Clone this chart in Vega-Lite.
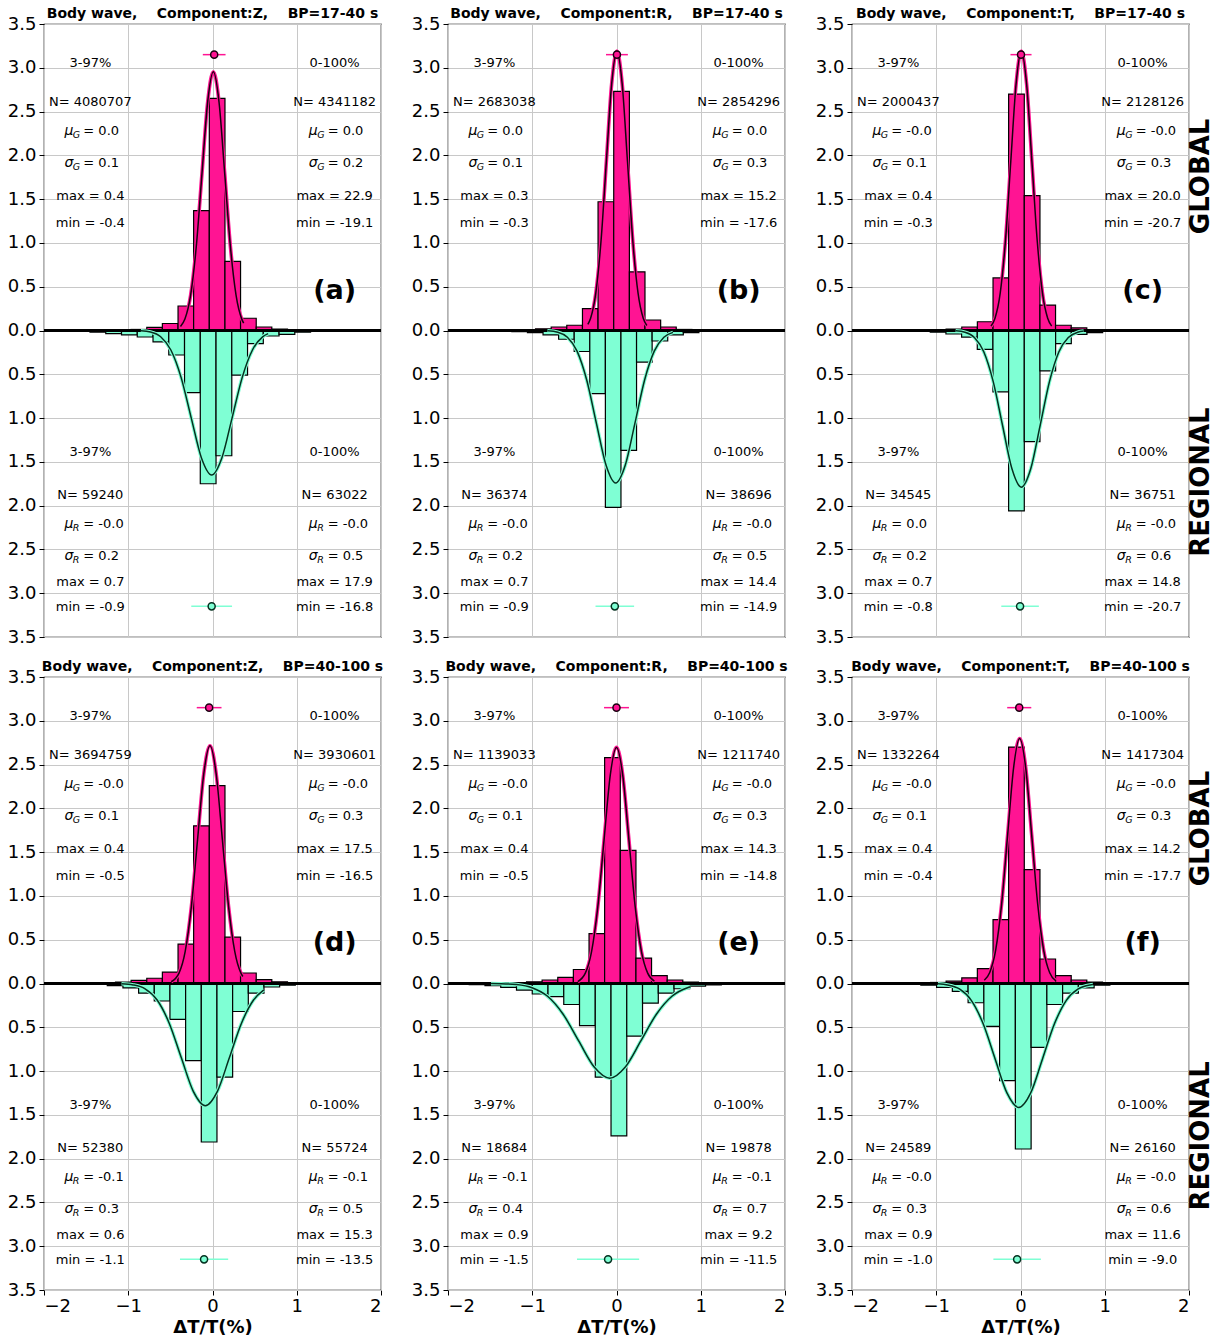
{
"$schema": "https://vega.github.io/schema/vega-lite/v6.json",
"padding": {"left": 6, "top": 6, "right": 0, "bottom": 0},
"data": {"values": [
{"p":"a","k":"b","g":"G","x":-1.151,"x2":-0.966,"y":0.006},{"p":"a","k":"b","g":"G","x":-0.966,"x2":-0.780,"y":0.012},{"p":"a","k":"b","g":"G","x":-0.780,"x2":-0.595,"y":0.035},{"p":"a","k":"b","g":"G","x":-0.595,"x2":-0.409,"y":0.08},{"p":"a","k":"b","g":"G","x":-0.409,"x2":-0.224,"y":0.28},{"p":"a","k":"b","g":"G","x":-0.224,"x2":-0.038,"y":1.37},{"p":"a","k":"b","g":"G","x":-0.038,"x2":0.148,"y":2.65},{"p":"a","k":"b","g":"G","x":0.148,"x2":0.333,"y":0.79},{"p":"a","k":"b","g":"G","x":0.333,"x2":0.519,"y":0.14},{"p":"a","k":"b","g":"G","x":0.519,"x2":0.704,"y":0.04},{"p":"a","k":"b","g":"G","x":0.704,"x2":0.890,"y":0.015},{"p":"a","k":"b","g":"G","x":0.890,"x2":1.075,"y":0.006},
{"p":"a","k":"b","g":"R","x":-1.641,"x2":-1.454,"y":-0.008},{"p":"a","k":"b","g":"R","x":-1.454,"x2":-1.267,"y":-0.018},{"p":"a","k":"b","g":"R","x":-1.267,"x2":-1.080,"y":-0.036},{"p":"a","k":"b","g":"R","x":-1.080,"x2":-0.893,"y":-0.05},{"p":"a","k":"b","g":"R","x":-0.893,"x2":-0.706,"y":-0.074},{"p":"a","k":"b","g":"R","x":-0.706,"x2":-0.519,"y":-0.13},{"p":"a","k":"b","g":"R","x":-0.519,"x2":-0.332,"y":-0.28},{"p":"a","k":"b","g":"R","x":-0.332,"x2":-0.145,"y":-0.71},{"p":"a","k":"b","g":"R","x":-0.145,"x2":0.042,"y":-1.75},{"p":"a","k":"b","g":"R","x":0.042,"x2":0.229,"y":-1.43},{"p":"a","k":"b","g":"R","x":0.229,"x2":0.416,"y":-0.51},{"p":"a","k":"b","g":"R","x":0.416,"x2":0.603,"y":-0.15},{"p":"a","k":"b","g":"R","x":0.603,"x2":0.790,"y":-0.063},{"p":"a","k":"b","g":"R","x":0.790,"x2":0.977,"y":-0.044},{"p":"a","k":"b","g":"R","x":0.977,"x2":1.164,"y":-0.02},{"p":"a","k":"b","g":"R","x":1.164,"x2":1.351,"y":-0.01},
{"p":"b","k":"b","g":"G","x":-1.146,"x2":-0.961,"y":0.008},{"p":"b","k":"b","g":"G","x":-0.961,"x2":-0.775,"y":0.02},{"p":"b","k":"b","g":"G","x":-0.775,"x2":-0.590,"y":0.04},{"p":"b","k":"b","g":"G","x":-0.590,"x2":-0.404,"y":0.06},{"p":"b","k":"b","g":"G","x":-0.404,"x2":-0.219,"y":0.25},{"p":"b","k":"b","g":"G","x":-0.219,"x2":-0.033,"y":1.47},{"p":"b","k":"b","g":"G","x":-0.033,"x2":0.153,"y":2.73},{"p":"b","k":"b","g":"G","x":0.153,"x2":0.338,"y":0.67},{"p":"b","k":"b","g":"G","x":0.338,"x2":0.524,"y":0.12},{"p":"b","k":"b","g":"G","x":0.524,"x2":0.709,"y":0.04},{"p":"b","k":"b","g":"G","x":0.709,"x2":0.895,"y":0.012},
{"p":"b","k":"b","g":"R","x":-1.242,"x2":-1.057,"y":-0.012},{"p":"b","k":"b","g":"R","x":-1.057,"x2":-0.872,"y":-0.025},{"p":"b","k":"b","g":"R","x":-0.872,"x2":-0.687,"y":-0.05},{"p":"b","k":"b","g":"R","x":-0.687,"x2":-0.502,"y":-0.10},{"p":"b","k":"b","g":"R","x":-0.502,"x2":-0.317,"y":-0.24},{"p":"b","k":"b","g":"R","x":-0.317,"x2":-0.132,"y":-0.72},{"p":"b","k":"b","g":"R","x":-0.132,"x2":0.053,"y":-2.02},{"p":"b","k":"b","g":"R","x":0.053,"x2":0.238,"y":-1.37},{"p":"b","k":"b","g":"R","x":0.238,"x2":0.423,"y":-0.36},{"p":"b","k":"b","g":"R","x":0.423,"x2":0.608,"y":-0.12},{"p":"b","k":"b","g":"R","x":0.608,"x2":0.793,"y":-0.05},{"p":"b","k":"b","g":"R","x":0.793,"x2":0.978,"y":-0.025},{"p":"b","k":"b","g":"R","x":0.978,"x2":1.163,"y":-0.01},
{"p":"c","k":"b","g":"G","x":-1.068,"x2":-0.883,"y":0.008},{"p":"c","k":"b","g":"G","x":-0.883,"x2":-0.697,"y":0.015},{"p":"c","k":"b","g":"G","x":-0.697,"x2":-0.512,"y":0.04},{"p":"c","k":"b","g":"G","x":-0.512,"x2":-0.326,"y":0.10},{"p":"c","k":"b","g":"G","x":-0.326,"x2":-0.141,"y":0.60},{"p":"c","k":"b","g":"G","x":-0.141,"x2":0.045,"y":2.70},{"p":"c","k":"b","g":"G","x":0.045,"x2":0.231,"y":1.54},{"p":"c","k":"b","g":"G","x":0.231,"x2":0.416,"y":0.29},{"p":"c","k":"b","g":"G","x":0.416,"x2":0.602,"y":0.06},{"p":"c","k":"b","g":"G","x":0.602,"x2":0.787,"y":0.03},{"p":"c","k":"b","g":"G","x":0.787,"x2":0.973,"y":0.01},
{"p":"c","k":"b","g":"R","x":-1.257,"x2":-1.071,"y":-0.01},{"p":"c","k":"b","g":"R","x":-1.071,"x2":-0.885,"y":-0.02},{"p":"c","k":"b","g":"R","x":-0.885,"x2":-0.699,"y":-0.04},{"p":"c","k":"b","g":"R","x":-0.699,"x2":-0.513,"y":-0.075},{"p":"c","k":"b","g":"R","x":-0.513,"x2":-0.327,"y":-0.215},{"p":"c","k":"b","g":"R","x":-0.327,"x2":-0.141,"y":-0.70},{"p":"c","k":"b","g":"R","x":-0.141,"x2":0.045,"y":-2.06},{"p":"c","k":"b","g":"R","x":0.045,"x2":0.231,"y":-1.27},{"p":"c","k":"b","g":"R","x":0.231,"x2":0.417,"y":-0.46},{"p":"c","k":"b","g":"R","x":0.417,"x2":0.603,"y":-0.15},{"p":"c","k":"b","g":"R","x":0.603,"x2":0.789,"y":-0.044},{"p":"c","k":"b","g":"R","x":0.789,"x2":0.975,"y":-0.025},{"p":"c","k":"b","g":"R","x":0.975,"x2":1.161,"y":-0.01},
{"p":"d","k":"b","g":"G","x":-1.337,"x2":-1.151,"y":0.006},{"p":"d","k":"b","g":"G","x":-1.151,"x2":-0.966,"y":0.015},{"p":"d","k":"b","g":"G","x":-0.966,"x2":-0.780,"y":0.035},{"p":"d","k":"b","g":"G","x":-0.780,"x2":-0.595,"y":0.06},{"p":"d","k":"b","g":"G","x":-0.595,"x2":-0.409,"y":0.13},{"p":"d","k":"b","g":"G","x":-0.409,"x2":-0.224,"y":0.45},{"p":"d","k":"b","g":"G","x":-0.224,"x2":-0.038,"y":1.80},{"p":"d","k":"b","g":"G","x":-0.038,"x2":0.148,"y":2.26},{"p":"d","k":"b","g":"G","x":0.148,"x2":0.333,"y":0.53},{"p":"d","k":"b","g":"G","x":0.333,"x2":0.519,"y":0.12},{"p":"d","k":"b","g":"G","x":0.519,"x2":0.704,"y":0.045},{"p":"d","k":"b","g":"G","x":0.704,"x2":0.890,"y":0.02},{"p":"d","k":"b","g":"G","x":0.890,"x2":1.075,"y":0.008},
{"p":"d","k":"b","g":"R","x":-1.435,"x2":-1.249,"y":-0.01},{"p":"d","k":"b","g":"R","x":-1.249,"x2":-1.063,"y":-0.025},{"p":"d","k":"b","g":"R","x":-1.063,"x2":-0.877,"y":-0.05},{"p":"d","k":"b","g":"R","x":-0.877,"x2":-0.691,"y":-0.11},{"p":"d","k":"b","g":"R","x":-0.691,"x2":-0.505,"y":-0.20},{"p":"d","k":"b","g":"R","x":-0.505,"x2":-0.319,"y":-0.41},{"p":"d","k":"b","g":"R","x":-0.319,"x2":-0.133,"y":-0.88},{"p":"d","k":"b","g":"R","x":-0.133,"x2":0.053,"y":-1.81},{"p":"d","k":"b","g":"R","x":0.053,"x2":0.239,"y":-1.07},{"p":"d","k":"b","g":"R","x":0.239,"x2":0.425,"y":-0.32},{"p":"d","k":"b","g":"R","x":0.425,"x2":0.611,"y":-0.11},{"p":"d","k":"b","g":"R","x":0.611,"x2":0.797,"y":-0.04},{"p":"d","k":"b","g":"R","x":0.797,"x2":0.983,"y":-0.02},{"p":"d","k":"b","g":"R","x":0.983,"x2":1.169,"y":-0.008},
{"p":"e","k":"b","g":"G","x":-1.254,"x2":-1.068,"y":0.008},{"p":"e","k":"b","g":"G","x":-1.068,"x2":-0.883,"y":0.02},{"p":"e","k":"b","g":"G","x":-0.883,"x2":-0.697,"y":0.04},{"p":"e","k":"b","g":"G","x":-0.697,"x2":-0.512,"y":0.07},{"p":"e","k":"b","g":"G","x":-0.512,"x2":-0.326,"y":0.16},{"p":"e","k":"b","g":"G","x":-0.326,"x2":-0.141,"y":0.57},{"p":"e","k":"b","g":"G","x":-0.141,"x2":0.045,"y":2.58},{"p":"e","k":"b","g":"G","x":0.045,"x2":0.231,"y":1.52},{"p":"e","k":"b","g":"G","x":0.231,"x2":0.416,"y":0.29},{"p":"e","k":"b","g":"G","x":0.416,"x2":0.602,"y":0.09},{"p":"e","k":"b","g":"G","x":0.602,"x2":0.787,"y":0.04},{"p":"e","k":"b","g":"G","x":0.787,"x2":0.973,"y":0.015},
{"p":"e","k":"b","g":"R","x":-1.748,"x2":-1.561,"y":-0.012},{"p":"e","k":"b","g":"R","x":-1.561,"x2":-1.374,"y":-0.025},{"p":"e","k":"b","g":"R","x":-1.374,"x2":-1.187,"y":-0.045},{"p":"e","k":"b","g":"R","x":-1.187,"x2":-1.0,"y":-0.075},{"p":"e","k":"b","g":"R","x":-1.0,"x2":-0.813,"y":-0.12},{"p":"e","k":"b","g":"R","x":-0.813,"x2":-0.626,"y":-0.15},{"p":"e","k":"b","g":"R","x":-0.626,"x2":-0.439,"y":-0.24},{"p":"e","k":"b","g":"R","x":-0.439,"x2":-0.252,"y":-0.48},{"p":"e","k":"b","g":"R","x":-0.252,"x2":-0.065,"y":-1.07},{"p":"e","k":"b","g":"R","x":-0.065,"x2":0.122,"y":-1.74},{"p":"e","k":"b","g":"R","x":0.122,"x2":0.309,"y":-0.60},{"p":"e","k":"b","g":"R","x":0.309,"x2":0.496,"y":-0.225},{"p":"e","k":"b","g":"R","x":0.496,"x2":0.683,"y":-0.11},{"p":"e","k":"b","g":"R","x":0.683,"x2":0.870,"y":-0.06},{"p":"e","k":"b","g":"R","x":0.870,"x2":1.057,"y":-0.03},{"p":"e","k":"b","g":"R","x":1.057,"x2":1.244,"y":-0.015},
{"p":"f","k":"b","g":"G","x":-1.068,"x2":-0.883,"y":0.012},{"p":"f","k":"b","g":"G","x":-0.883,"x2":-0.697,"y":0.027},{"p":"f","k":"b","g":"G","x":-0.697,"x2":-0.512,"y":0.065},{"p":"f","k":"b","g":"G","x":-0.512,"x2":-0.326,"y":0.17},{"p":"f","k":"b","g":"G","x":-0.326,"x2":-0.141,"y":0.73},{"p":"f","k":"b","g":"G","x":-0.141,"x2":0.045,"y":2.70},{"p":"f","k":"b","g":"G","x":0.045,"x2":0.231,"y":1.30},{"p":"f","k":"b","g":"G","x":0.231,"x2":0.416,"y":0.28},{"p":"f","k":"b","g":"G","x":0.416,"x2":0.602,"y":0.09},{"p":"f","k":"b","g":"G","x":0.602,"x2":0.787,"y":0.04},{"p":"f","k":"b","g":"G","x":0.787,"x2":0.973,"y":0.015},
{"p":"f","k":"b","g":"R","x":-1.370,"x2":-1.183,"y":-0.01},{"p":"f","k":"b","g":"R","x":-1.183,"x2":-0.996,"y":-0.02},{"p":"f","k":"b","g":"R","x":-0.996,"x2":-0.809,"y":-0.045},{"p":"f","k":"b","g":"R","x":-0.809,"x2":-0.622,"y":-0.09},{"p":"f","k":"b","g":"R","x":-0.622,"x2":-0.435,"y":-0.22},{"p":"f","k":"b","g":"R","x":-0.435,"x2":-0.248,"y":-0.49},{"p":"f","k":"b","g":"R","x":-0.248,"x2":-0.061,"y":-1.11},{"p":"f","k":"b","g":"R","x":-0.061,"x2":0.126,"y":-1.89},{"p":"f","k":"b","g":"R","x":0.126,"x2":0.313,"y":-0.73},{"p":"f","k":"b","g":"R","x":0.313,"x2":0.5,"y":-0.24},{"p":"f","k":"b","g":"R","x":0.5,"x2":0.687,"y":-0.11},{"p":"f","k":"b","g":"R","x":0.687,"x2":0.874,"y":-0.05},{"p":"f","k":"b","g":"R","x":0.874,"x2":1.061,"y":-0.02},

{"p":"a","k":"c","g":"G","x":-0.38,"y":0.046},{"p":"a","k":"c","g":"G","x":-0.3275,"y":0.130},{"p":"a","k":"c","g":"G","x":-0.26,"y":0.400},{"p":"a","k":"c","g":"G","x":-0.1925,"y":0.959},{"p":"a","k":"c","g":"G","x":-0.125,"y":1.792},{"p":"a","k":"c","g":"G","x":-0.0575,"y":2.608},{"p":"a","k":"c","g":"G","x":0.01,"y":2.955},{"p":"a","k":"c","g":"G","x":0.0775,"y":2.608},{"p":"a","k":"c","g":"G","x":0.145,"y":1.792},{"p":"a","k":"c","g":"G","x":0.2125,"y":0.959},{"p":"a","k":"c","g":"G","x":0.28,"y":0.400},{"p":"a","k":"c","g":"G","x":0.3475,"y":0.130},{"p":"a","k":"c","g":"G","x":0.37,"y":0.084},
{"p":"a","k":"c","g":"R","x":-0.85,"y":-0.004},{"p":"a","k":"c","g":"R","x":-0.736,"y":-0.018},{"p":"a","k":"c","g":"R","x":-0.615,"y":-0.072},{"p":"a","k":"c","g":"R","x":-0.494,"y":-0.223},{"p":"a","k":"c","g":"R","x":-0.373,"y":-0.535},{"p":"a","k":"c","g":"R","x":-0.252,"y":-1.0},{"p":"a","k":"c","g":"R","x":-0.131,"y":-1.455},{"p":"a","k":"c","g":"R","x":-0.01,"y":-1.649},{"p":"a","k":"c","g":"R","x":0.111,"y":-1.455},{"p":"a","k":"c","g":"R","x":0.232,"y":-1.0},{"p":"a","k":"c","g":"R","x":0.353,"y":-0.535},{"p":"a","k":"c","g":"R","x":0.474,"y":-0.223},{"p":"a","k":"c","g":"R","x":0.595,"y":-0.072},{"p":"a","k":"c","g":"R","x":0.66,"y":-0.036},
{"p":"b","k":"c","g":"G","x":-0.34,"y":0.071},{"p":"b","k":"c","g":"G","x":-0.3075,"y":0.140},{"p":"b","k":"c","g":"G","x":-0.245,"y":0.432},{"p":"b","k":"c","g":"G","x":-0.1825,"y":1.036},{"p":"b","k":"c","g":"G","x":-0.12,"y":1.935},{"p":"b","k":"c","g":"G","x":-0.0575,"y":2.815},{"p":"b","k":"c","g":"G","x":0.005,"y":3.19},{"p":"b","k":"c","g":"G","x":0.0675,"y":2.815},{"p":"b","k":"c","g":"G","x":0.13,"y":1.935},{"p":"b","k":"c","g":"G","x":0.1925,"y":1.036},{"p":"b","k":"c","g":"G","x":0.255,"y":0.432},{"p":"b","k":"c","g":"G","x":0.3175,"y":0.140},{"p":"b","k":"c","g":"G","x":0.36,"y":0.057},
{"p":"b","k":"c","g":"R","x":-0.82,"y":-0.003},{"p":"b","k":"c","g":"R","x":-0.697,"y":-0.019},{"p":"b","k":"c","g":"R","x":-0.5825,"y":-0.077},{"p":"b","k":"c","g":"R","x":-0.468,"y":-0.236},{"p":"b","k":"c","g":"R","x":-0.3535,"y":-0.566},{"p":"b","k":"c","g":"R","x":-0.239,"y":-1.057},{"p":"b","k":"c","g":"R","x":-0.1245,"y":-1.537},{"p":"b","k":"c","g":"R","x":-0.01,"y":-1.742},{"p":"b","k":"c","g":"R","x":0.1045,"y":-1.537},{"p":"b","k":"c","g":"R","x":0.219,"y":-1.057},{"p":"b","k":"c","g":"R","x":0.3335,"y":-0.566},{"p":"b","k":"c","g":"R","x":0.448,"y":-0.236},{"p":"b","k":"c","g":"R","x":0.5625,"y":-0.077},{"p":"b","k":"c","g":"R","x":0.67,"y":-0.021},
{"p":"c","k":"c","g":"G","x":-0.35,"y":0.050},{"p":"c","k":"c","g":"G","x":-0.3025,"y":0.140},{"p":"c","k":"c","g":"G","x":-0.24,"y":0.432},{"p":"c","k":"c","g":"G","x":-0.1775,"y":1.036},{"p":"c","k":"c","g":"G","x":-0.115,"y":1.935},{"p":"c","k":"c","g":"G","x":-0.0525,"y":2.815},{"p":"c","k":"c","g":"G","x":0.01,"y":3.19},{"p":"c","k":"c","g":"G","x":0.0725,"y":2.815},{"p":"c","k":"c","g":"G","x":0.135,"y":1.935},{"p":"c","k":"c","g":"G","x":0.1975,"y":1.036},{"p":"c","k":"c","g":"G","x":0.26,"y":0.432},{"p":"c","k":"c","g":"G","x":0.3225,"y":0.140},{"p":"c","k":"c","g":"G","x":0.37,"y":0.050},
{"p":"c","k":"c","g":"R","x":-0.77,"y":-0.004},{"p":"c","k":"c","g":"R","x":-0.659,"y":-0.020},{"p":"c","k":"c","g":"R","x":-0.5475,"y":-0.079},{"p":"c","k":"c","g":"R","x":-0.436,"y":-0.242},{"p":"c","k":"c","g":"R","x":-0.3245,"y":-0.581},{"p":"c","k":"c","g":"R","x":-0.213,"y":-1.085},{"p":"c","k":"c","g":"R","x":-0.1015,"y":-1.579},{"p":"c","k":"c","g":"R","x":0.01,"y":-1.789},{"p":"c","k":"c","g":"R","x":0.1215,"y":-1.579},{"p":"c","k":"c","g":"R","x":0.233,"y":-1.085},{"p":"c","k":"c","g":"R","x":0.3445,"y":-0.581},{"p":"c","k":"c","g":"R","x":0.456,"y":-0.242},{"p":"c","k":"c","g":"R","x":0.5675,"y":-0.079},{"p":"c","k":"c","g":"R","x":0.679,"y":-0.020},{"p":"c","k":"c","g":"R","x":0.75,"y":-0.007},
{"p":"d","k":"c","g":"G","x":-0.49,"y":0.020},{"p":"d","k":"c","g":"G","x":-0.3975,"y":0.119},{"p":"d","k":"c","g":"G","x":-0.324,"y":0.367},{"p":"d","k":"c","g":"G","x":-0.2505,"y":0.881},{"p":"d","k":"c","g":"G","x":-0.177,"y":1.646},{"p":"d","k":"c","g":"G","x":-0.1035,"y":2.395},{"p":"d","k":"c","g":"G","x":-0.03,"y":2.714},{"p":"d","k":"c","g":"G","x":0.0435,"y":2.395},{"p":"d","k":"c","g":"G","x":0.117,"y":1.646},{"p":"d","k":"c","g":"G","x":0.1905,"y":0.881},{"p":"d","k":"c","g":"G","x":0.264,"y":0.367},{"p":"d","k":"c","g":"G","x":0.3375,"y":0.119},{"p":"d","k":"c","g":"G","x":0.36,"y":0.080},
{"p":"d","k":"c","g":"R","x":-1.08,"y":-0.003},{"p":"d","k":"c","g":"R","x":-0.943,"y":-0.016},{"p":"d","k":"c","g":"R","x":-0.8,"y":-0.061},{"p":"d","k":"c","g":"R","x":-0.657,"y":-0.189},{"p":"d","k":"c","g":"R","x":-0.514,"y":-0.453},{"p":"d","k":"c","g":"R","x":-0.371,"y":-0.846},{"p":"d","k":"c","g":"R","x":-0.228,"y":-1.231},{"p":"d","k":"c","g":"R","x":-0.085,"y":-1.395},{"p":"d","k":"c","g":"R","x":0.058,"y":-1.231},{"p":"d","k":"c","g":"R","x":0.201,"y":-0.846},{"p":"d","k":"c","g":"R","x":0.344,"y":-0.453},{"p":"d","k":"c","g":"R","x":0.487,"y":-0.189},{"p":"d","k":"c","g":"R","x":0.61,"y":-0.073},
{"p":"e","k":"c","g":"G","x":-0.46,"y":0.022},{"p":"e","k":"c","g":"G","x":-0.37,"y":0.118},{"p":"e","k":"c","g":"G","x":-0.296,"y":0.365},{"p":"e","k":"c","g":"G","x":-0.222,"y":0.875},{"p":"e","k":"c","g":"G","x":-0.148,"y":1.635},{"p":"e","k":"c","g":"G","x":-0.074,"y":2.379},{"p":"e","k":"c","g":"G","x":0.0,"y":2.696},{"p":"e","k":"c","g":"G","x":0.074,"y":2.379},{"p":"e","k":"c","g":"G","x":0.148,"y":1.635},{"p":"e","k":"c","g":"G","x":0.222,"y":0.875},{"p":"e","k":"c","g":"G","x":0.296,"y":0.365},{"p":"e","k":"c","g":"G","x":0.37,"y":0.118},{"p":"e","k":"c","g":"G","x":0.45,"y":0.027},
{"p":"e","k":"c","g":"R","x":-1.49,"y":-0.001},{"p":"e","k":"c","g":"R","x":-1.3715,"y":-0.002},{"p":"e","k":"c","g":"R","x":-1.187,"y":-0.012},{"p":"e","k":"c","g":"R","x":-1.0025,"y":-0.048},{"p":"e","k":"c","g":"R","x":-0.818,"y":-0.146},{"p":"e","k":"c","g":"R","x":-0.6335,"y":-0.351},{"p":"e","k":"c","g":"R","x":-0.449,"y":-0.656},{"p":"e","k":"c","g":"R","x":-0.2645,"y":-0.954},{"p":"e","k":"c","g":"R","x":-0.08,"y":-1.081},{"p":"e","k":"c","g":"R","x":0.1045,"y":-0.954},{"p":"e","k":"c","g":"R","x":0.289,"y":-0.656},{"p":"e","k":"c","g":"R","x":0.4735,"y":-0.351},{"p":"e","k":"c","g":"R","x":0.658,"y":-0.146},{"p":"e","k":"c","g":"R","x":0.8425,"y":-0.048},{"p":"e","k":"c","g":"R","x":0.88,"y":-0.037},
{"p":"f","k":"c","g":"G","x":-0.43,"y":0.037},{"p":"f","k":"c","g":"G","x":-0.3665,"y":0.123},{"p":"f","k":"c","g":"G","x":-0.2952,"y":0.379},{"p":"f","k":"c","g":"G","x":-0.2239,"y":0.909},{"p":"f","k":"c","g":"G","x":-0.1526,"y":1.697},{"p":"f","k":"c","g":"G","x":-0.0813,"y":2.469},{"p":"f","k":"c","g":"G","x":-0.01,"y":2.798},{"p":"f","k":"c","g":"G","x":0.0613,"y":2.469},{"p":"f","k":"c","g":"G","x":0.1326,"y":1.697},{"p":"f","k":"c","g":"G","x":0.2039,"y":0.909},{"p":"f","k":"c","g":"G","x":0.2752,"y":0.379},{"p":"f","k":"c","g":"G","x":0.3465,"y":0.123},{"p":"f","k":"c","g":"G","x":0.42,"y":0.030},
{"p":"f","k":"c","g":"R","x":-0.98,"y":-0.004},{"p":"f","k":"c","g":"R","x":-0.866,"y":-0.016},{"p":"f","k":"c","g":"R","x":-0.725,"y":-0.062},{"p":"f","k":"c","g":"R","x":-0.584,"y":-0.192},{"p":"f","k":"c","g":"R","x":-0.443,"y":-0.460},{"p":"f","k":"c","g":"R","x":-0.302,"y":-0.858},{"p":"f","k":"c","g":"R","x":-0.161,"y":-1.249},{"p":"f","k":"c","g":"R","x":-0.02,"y":-1.415},{"p":"f","k":"c","g":"R","x":0.121,"y":-1.249},{"p":"f","k":"c","g":"R","x":0.262,"y":-0.858},{"p":"f","k":"c","g":"R","x":0.403,"y":-0.460},{"p":"f","k":"c","g":"R","x":0.544,"y":-0.192},{"p":"f","k":"c","g":"R","x":0.685,"y":-0.062},{"p":"f","k":"c","g":"R","x":0.826,"y":-0.016},{"p":"f","k":"c","g":"R","x":0.86,"y":-0.011},

{"p":"a","k":"e","g":"G","m":0.02,"x":-0.115,"x2":0.155,"y":3.15},{"p":"a","k":"e","g":"R","m":-0.01,"x":-0.252,"x2":0.232,"y":-3.15},
{"p":"b","k":"e","g":"G","m":0.005,"x":-0.125,"x2":0.135,"y":3.15},{"p":"b","k":"e","g":"R","m":-0.02,"x":-0.249,"x2":0.209,"y":-3.15},
{"p":"c","k":"e","g":"G","m":0.006,"x":-0.119,"x2":0.131,"y":3.15},{"p":"c","k":"e","g":"R","m":-0.005,"x":-0.228,"x2":0.218,"y":-3.15},
{"p":"d","k":"e","g":"G","m":-0.04,"x":-0.187,"x2":0.107,"y":3.15},{"p":"d","k":"e","g":"R","m":-0.1,"x":-0.386,"x2":0.186,"y":-3.15},
{"p":"e","k":"e","g":"G","m":0.0,"x":-0.148,"x2":0.148,"y":3.15},{"p":"e","k":"e","g":"R","m":-0.1,"x":-0.469,"x2":0.269,"y":-3.15},
{"p":"f","k":"e","g":"G","m":-0.015,"x":-0.158,"x2":0.128,"y":3.15},{"p":"f","k":"e","g":"R","m":-0.04,"x":-0.322,"x2":0.242,"y":-3.15},

{"p":"a","k":"t","x":-1.45,"y":3.055,"s":"3-97%"},{"p":"a","k":"t","x":1.45,"y":3.055,"s":"0-100%"},{"p":"a","k":"t","x":-1.45,"y":2.61,"s":"N= 4080707"},{"p":"a","k":"t","x":1.45,"y":2.61,"s":"N= 4341182"},
{"p":"a","k":"s","x":-1.45,"y":2.28,"sym":"μ","g":"G","v":"= 0.0"},{"p":"a","k":"s","x":1.45,"y":2.28,"sym":"μ","g":"G","v":"= 0.0"},{"p":"a","k":"s","x":-1.45,"y":1.91,"sym":"σ","g":"G","v":"= 0.1"},{"p":"a","k":"s","x":1.45,"y":1.91,"sym":"σ","g":"G","v":"= 0.2"},
{"p":"a","k":"t","x":-1.45,"y":1.536,"s":"max = 0.4"},{"p":"a","k":"t","x":1.45,"y":1.536,"s":"max = 22.9"},{"p":"a","k":"t","x":-1.45,"y":1.228,"s":"min = -0.4"},{"p":"a","k":"t","x":1.45,"y":1.228,"s":"min = -19.1"},
{"p":"a","k":"t","x":-1.45,"y":-1.39,"s":"3-97%"},{"p":"a","k":"t","x":1.45,"y":-1.39,"s":"0-100%"},{"p":"a","k":"t","x":-1.45,"y":-1.88,"s":"N= 59240"},{"p":"a","k":"t","x":1.45,"y":-1.88,"s":"N= 63022"},
{"p":"a","k":"s","x":-1.45,"y":-2.21,"sym":"μ","g":"R","v":"= -0.0"},{"p":"a","k":"s","x":1.45,"y":-2.21,"sym":"μ","g":"R","v":"= -0.0"},{"p":"a","k":"s","x":-1.45,"y":-2.575,"sym":"σ","g":"R","v":"= 0.2"},{"p":"a","k":"s","x":1.45,"y":-2.575,"sym":"σ","g":"R","v":"= 0.5"},
{"p":"a","k":"t","x":-1.45,"y":-2.87,"s":"max = 0.7"},{"p":"a","k":"t","x":1.45,"y":-2.87,"s":"max = 17.9"},{"p":"a","k":"t","x":-1.45,"y":-3.16,"s":"min = -0.9"},{"p":"a","k":"t","x":1.45,"y":-3.16,"s":"min = -16.8"},

{"p":"b","k":"t","x":-1.45,"y":3.055,"s":"3-97%"},{"p":"b","k":"t","x":1.45,"y":3.055,"s":"0-100%"},{"p":"b","k":"t","x":-1.45,"y":2.61,"s":"N= 2683038"},{"p":"b","k":"t","x":1.45,"y":2.61,"s":"N= 2854296"},
{"p":"b","k":"s","x":-1.45,"y":2.28,"sym":"μ","g":"G","v":"= 0.0"},{"p":"b","k":"s","x":1.45,"y":2.28,"sym":"μ","g":"G","v":"= 0.0"},{"p":"b","k":"s","x":-1.45,"y":1.91,"sym":"σ","g":"G","v":"= 0.1"},{"p":"b","k":"s","x":1.45,"y":1.91,"sym":"σ","g":"G","v":"= 0.3"},
{"p":"b","k":"t","x":-1.45,"y":1.536,"s":"max = 0.3"},{"p":"b","k":"t","x":1.45,"y":1.536,"s":"max = 15.2"},{"p":"b","k":"t","x":-1.45,"y":1.228,"s":"min = -0.3"},{"p":"b","k":"t","x":1.45,"y":1.228,"s":"min = -17.6"},
{"p":"b","k":"t","x":-1.45,"y":-1.39,"s":"3-97%"},{"p":"b","k":"t","x":1.45,"y":-1.39,"s":"0-100%"},{"p":"b","k":"t","x":-1.45,"y":-1.88,"s":"N= 36374"},{"p":"b","k":"t","x":1.45,"y":-1.88,"s":"N= 38696"},
{"p":"b","k":"s","x":-1.45,"y":-2.21,"sym":"μ","g":"R","v":"= -0.0"},{"p":"b","k":"s","x":1.45,"y":-2.21,"sym":"μ","g":"R","v":"= -0.0"},{"p":"b","k":"s","x":-1.45,"y":-2.575,"sym":"σ","g":"R","v":"= 0.2"},{"p":"b","k":"s","x":1.45,"y":-2.575,"sym":"σ","g":"R","v":"= 0.5"},
{"p":"b","k":"t","x":-1.45,"y":-2.87,"s":"max = 0.7"},{"p":"b","k":"t","x":1.45,"y":-2.87,"s":"max = 14.4"},{"p":"b","k":"t","x":-1.45,"y":-3.16,"s":"min = -0.9"},{"p":"b","k":"t","x":1.45,"y":-3.16,"s":"min = -14.9"},

{"p":"c","k":"t","x":-1.45,"y":3.055,"s":"3-97%"},{"p":"c","k":"t","x":1.45,"y":3.055,"s":"0-100%"},{"p":"c","k":"t","x":-1.45,"y":2.61,"s":"N= 2000437"},{"p":"c","k":"t","x":1.45,"y":2.61,"s":"N= 2128126"},
{"p":"c","k":"s","x":-1.45,"y":2.28,"sym":"μ","g":"G","v":"= -0.0"},{"p":"c","k":"s","x":1.45,"y":2.28,"sym":"μ","g":"G","v":"= -0.0"},{"p":"c","k":"s","x":-1.45,"y":1.91,"sym":"σ","g":"G","v":"= 0.1"},{"p":"c","k":"s","x":1.45,"y":1.91,"sym":"σ","g":"G","v":"= 0.3"},
{"p":"c","k":"t","x":-1.45,"y":1.536,"s":"max = 0.4"},{"p":"c","k":"t","x":1.45,"y":1.536,"s":"max = 20.0"},{"p":"c","k":"t","x":-1.45,"y":1.228,"s":"min = -0.3"},{"p":"c","k":"t","x":1.45,"y":1.228,"s":"min = -20.7"},
{"p":"c","k":"t","x":-1.45,"y":-1.39,"s":"3-97%"},{"p":"c","k":"t","x":1.45,"y":-1.39,"s":"0-100%"},{"p":"c","k":"t","x":-1.45,"y":-1.88,"s":"N= 34545"},{"p":"c","k":"t","x":1.45,"y":-1.88,"s":"N= 36751"},
{"p":"c","k":"s","x":-1.45,"y":-2.21,"sym":"μ","g":"R","v":"= 0.0"},{"p":"c","k":"s","x":1.45,"y":-2.21,"sym":"μ","g":"R","v":"= -0.0"},{"p":"c","k":"s","x":-1.45,"y":-2.575,"sym":"σ","g":"R","v":"= 0.2"},{"p":"c","k":"s","x":1.45,"y":-2.575,"sym":"σ","g":"R","v":"= 0.6"},
{"p":"c","k":"t","x":-1.45,"y":-2.87,"s":"max = 0.7"},{"p":"c","k":"t","x":1.45,"y":-2.87,"s":"max = 14.8"},{"p":"c","k":"t","x":-1.45,"y":-3.16,"s":"min = -0.8"},{"p":"c","k":"t","x":1.45,"y":-3.16,"s":"min = -20.7"},

{"p":"d","k":"t","x":-1.45,"y":3.055,"s":"3-97%"},{"p":"d","k":"t","x":1.45,"y":3.055,"s":"0-100%"},{"p":"d","k":"t","x":-1.45,"y":2.61,"s":"N= 3694759"},{"p":"d","k":"t","x":1.45,"y":2.61,"s":"N= 3930601"},
{"p":"d","k":"s","x":-1.45,"y":2.28,"sym":"μ","g":"G","v":"= -0.0"},{"p":"d","k":"s","x":1.45,"y":2.28,"sym":"μ","g":"G","v":"= -0.0"},{"p":"d","k":"s","x":-1.45,"y":1.91,"sym":"σ","g":"G","v":"= 0.1"},{"p":"d","k":"s","x":1.45,"y":1.91,"sym":"σ","g":"G","v":"= 0.3"},
{"p":"d","k":"t","x":-1.45,"y":1.536,"s":"max = 0.4"},{"p":"d","k":"t","x":1.45,"y":1.536,"s":"max = 17.5"},{"p":"d","k":"t","x":-1.45,"y":1.228,"s":"min = -0.5"},{"p":"d","k":"t","x":1.45,"y":1.228,"s":"min = -16.5"},
{"p":"d","k":"t","x":-1.45,"y":-1.39,"s":"3-97%"},{"p":"d","k":"t","x":1.45,"y":-1.39,"s":"0-100%"},{"p":"d","k":"t","x":-1.45,"y":-1.88,"s":"N= 52380"},{"p":"d","k":"t","x":1.45,"y":-1.88,"s":"N= 55724"},
{"p":"d","k":"s","x":-1.45,"y":-2.21,"sym":"μ","g":"R","v":"= -0.1"},{"p":"d","k":"s","x":1.45,"y":-2.21,"sym":"μ","g":"R","v":"= -0.1"},{"p":"d","k":"s","x":-1.45,"y":-2.575,"sym":"σ","g":"R","v":"= 0.3"},{"p":"d","k":"s","x":1.45,"y":-2.575,"sym":"σ","g":"R","v":"= 0.5"},
{"p":"d","k":"t","x":-1.45,"y":-2.87,"s":"max = 0.6"},{"p":"d","k":"t","x":1.45,"y":-2.87,"s":"max = 15.3"},{"p":"d","k":"t","x":-1.45,"y":-3.16,"s":"min = -1.1"},{"p":"d","k":"t","x":1.45,"y":-3.16,"s":"min = -13.5"},

{"p":"e","k":"t","x":-1.45,"y":3.055,"s":"3-97%"},{"p":"e","k":"t","x":1.45,"y":3.055,"s":"0-100%"},{"p":"e","k":"t","x":-1.45,"y":2.61,"s":"N= 1139033"},{"p":"e","k":"t","x":1.45,"y":2.61,"s":"N= 1211740"},
{"p":"e","k":"s","x":-1.45,"y":2.28,"sym":"μ","g":"G","v":"= -0.0"},{"p":"e","k":"s","x":1.45,"y":2.28,"sym":"μ","g":"G","v":"= -0.0"},{"p":"e","k":"s","x":-1.45,"y":1.91,"sym":"σ","g":"G","v":"= 0.1"},{"p":"e","k":"s","x":1.45,"y":1.91,"sym":"σ","g":"G","v":"= 0.3"},
{"p":"e","k":"t","x":-1.45,"y":1.536,"s":"max = 0.4"},{"p":"e","k":"t","x":1.45,"y":1.536,"s":"max = 14.3"},{"p":"e","k":"t","x":-1.45,"y":1.228,"s":"min = -0.5"},{"p":"e","k":"t","x":1.45,"y":1.228,"s":"min = -14.8"},
{"p":"e","k":"t","x":-1.45,"y":-1.39,"s":"3-97%"},{"p":"e","k":"t","x":1.45,"y":-1.39,"s":"0-100%"},{"p":"e","k":"t","x":-1.45,"y":-1.88,"s":"N= 18684"},{"p":"e","k":"t","x":1.45,"y":-1.88,"s":"N= 19878"},
{"p":"e","k":"s","x":-1.45,"y":-2.21,"sym":"μ","g":"R","v":"= -0.1"},{"p":"e","k":"s","x":1.45,"y":-2.21,"sym":"μ","g":"R","v":"= -0.1"},{"p":"e","k":"s","x":-1.45,"y":-2.575,"sym":"σ","g":"R","v":"= 0.4"},{"p":"e","k":"s","x":1.45,"y":-2.575,"sym":"σ","g":"R","v":"= 0.7"},
{"p":"e","k":"t","x":-1.45,"y":-2.87,"s":"max = 0.9"},{"p":"e","k":"t","x":1.45,"y":-2.87,"s":"max = 9.2"},{"p":"e","k":"t","x":-1.45,"y":-3.16,"s":"min = -1.5"},{"p":"e","k":"t","x":1.45,"y":-3.16,"s":"min = -11.5"},

{"p":"f","k":"t","x":-1.45,"y":3.055,"s":"3-97%"},{"p":"f","k":"t","x":1.45,"y":3.055,"s":"0-100%"},{"p":"f","k":"t","x":-1.45,"y":2.61,"s":"N= 1332264"},{"p":"f","k":"t","x":1.45,"y":2.61,"s":"N= 1417304"},
{"p":"f","k":"s","x":-1.45,"y":2.28,"sym":"μ","g":"G","v":"= -0.0"},{"p":"f","k":"s","x":1.45,"y":2.28,"sym":"μ","g":"G","v":"= -0.0"},{"p":"f","k":"s","x":-1.45,"y":1.91,"sym":"σ","g":"G","v":"= 0.1"},{"p":"f","k":"s","x":1.45,"y":1.91,"sym":"σ","g":"G","v":"= 0.3"},
{"p":"f","k":"t","x":-1.45,"y":1.536,"s":"max = 0.4"},{"p":"f","k":"t","x":1.45,"y":1.536,"s":"max = 14.2"},{"p":"f","k":"t","x":-1.45,"y":1.228,"s":"min = -0.4"},{"p":"f","k":"t","x":1.45,"y":1.228,"s":"min = -17.7"},
{"p":"f","k":"t","x":-1.45,"y":-1.39,"s":"3-97%"},{"p":"f","k":"t","x":1.45,"y":-1.39,"s":"0-100%"},{"p":"f","k":"t","x":-1.45,"y":-1.88,"s":"N= 24589"},{"p":"f","k":"t","x":1.45,"y":-1.88,"s":"N= 26160"},
{"p":"f","k":"s","x":-1.45,"y":-2.21,"sym":"μ","g":"R","v":"= -0.0"},{"p":"f","k":"s","x":1.45,"y":-2.21,"sym":"μ","g":"R","v":"= -0.0"},{"p":"f","k":"s","x":-1.45,"y":-2.575,"sym":"σ","g":"R","v":"= 0.3"},{"p":"f","k":"s","x":1.45,"y":-2.575,"sym":"σ","g":"R","v":"= 0.6"},
{"p":"f","k":"t","x":-1.45,"y":-2.87,"s":"max = 0.9"},{"p":"f","k":"t","x":1.45,"y":-2.87,"s":"max = 11.6"},{"p":"f","k":"t","x":-1.45,"y":-3.16,"s":"min = -1.0"},{"p":"f","k":"t","x":1.45,"y":-3.16,"s":"min = -9.0"},

{"p":"a","k":"l","x":1.45,"y":0.45,"s":"(a)"},{"p":"b","k":"l","x":1.45,"y":0.45,"s":"(b)"},{"p":"c","k":"l","x":1.45,"y":0.45,"s":"(c)"},{"p":"d","k":"l","x":1.45,"y":0.46,"s":"(d)"},{"p":"e","k":"l","x":1.45,"y":0.46,"s":"(e)"},{"p":"f","k":"l","x":1.45,"y":0.46,"s":"(f)"},
{"p":"c","k":"side","x":2.14,"y":1.76,"s":"GLOBAL"},{"p":"c","k":"side","x":2.14,"y":-1.73,"s":"REGIONAL"},{"p":"f","k":"side","x":2.14,"y":1.77,"s":"GLOBAL"},{"p":"f","k":"side","x":2.14,"y":-1.74,"s":"REGIONAL"}
]},
"facet": {"field": "p", "type": "nominal", "sort": ["a","b","c","d","e","f"],
  "header": {"title": null, "labelFontSize": 14, "labelFontWeight": "bold", "labelFont": "DejaVu Sans", "labelColor": "black", "labelPadding": -6,
    "labelExpr": "{'a':'Body wave,\u00a0\u00a0\u00a0 Component:Z,\u00a0\u00a0\u00a0 BP=17-40 s','b':'Body wave,\u00a0\u00a0\u00a0 Component:R,\u00a0\u00a0\u00a0 BP=17-40 s','c':'Body wave,\u00a0\u00a0\u00a0 Component:T,\u00a0\u00a0\u00a0 BP=17-40 s','d':'Body wave,\u00a0\u00a0\u00a0 Component:Z,\u00a0\u00a0\u00a0 BP=40-100 s','e':'Body wave,\u00a0\u00a0\u00a0 Component:R,\u00a0\u00a0\u00a0 BP=40-100 s','f':'Body wave,\u00a0\u00a0\u00a0 Component:T,\u00a0\u00a0\u00a0 BP=40-100 s'}[datum.value]"}},
"columns": 3,
"spacing": {"row": 40, "column": 67},
"bounds": "flush",
"resolve": {"axis": {"y": "independent"}},
"spec": {
  "width": 337, "height": 613,
  "layer": [
    {"transform": [{"filter": "datum.k == 'b'"}],
     "mark": {"type": "rect", "stroke": "black", "strokeWidth": 1.2},
     "encoding": {
       "x": {"field": "x", "type": "quantitative", "scale": {"domain": [-2, 2], "nice": false, "zero": false}, "axis": {"values": [-2, -1, 0, 1, 2], "format": "d", "title": "ΔT/T(%)"}},
       "x2": {"field": "x2"},
       "y": {"field": "y", "type": "quantitative", "scale": {"domain": [-3.5, 3.5], "nice": false, "zero": false}, "axis": {"values": [-3.5, -3, -2.5, -2, -1.5, -1, -0.5, 0, 0.5, 1, 1.5, 2, 2.5, 3, 3.5], "labelExpr": "format(abs(datum.value), '.1f')", "title": null}},
       "y2": {"datum": 0},
       "fill": {"field": "g", "type": "nominal", "scale": {"domain": ["G", "R"], "range": ["#ff1493", "#7fffd4"]}, "legend": null}
     }},
    {"mark": {"type": "rule", "color": "black", "strokeWidth": 2},
     "encoding": {"y": {"datum": 0, "type": "quantitative"}}},
    {"transform": [{"filter": "datum.k == 'c'"}],
     "mark": {"type": "line", "strokeWidth": 3.6, "interpolate": "monotone"},
     "encoding": {
       "x": {"field": "x", "type": "quantitative", "scale": {"domain": [-2, 2], "nice": false, "zero": false}, "title": "ΔT/T(%)"},
       "y": {"field": "y", "type": "quantitative", "scale": {"domain": [-3.5, 3.5], "nice": false, "zero": false}, "title": null},
       "color": {"field": "g", "type": "nominal", "scale": {"domain": ["G", "R"], "range": ["#ff1493", "#7fffd4"]}, "legend": null}
     }},
    {"transform": [{"filter": "datum.k == 'c'"}],
     "mark": {"type": "line", "strokeWidth": 1.5, "interpolate": "monotone"},
     "encoding": {
       "x": {"field": "x", "type": "quantitative", "scale": {"domain": [-2, 2], "nice": false, "zero": false}, "title": "ΔT/T(%)"},
       "y": {"field": "y", "type": "quantitative", "scale": {"domain": [-3.5, 3.5], "nice": false, "zero": false}, "title": null},
       "stroke": {"field": "g", "type": "nominal", "scale": {"domain": ["G", "R"], "range": ["#1a0010", "#05301f"]}, "legend": null}
     }},
    {"transform": [{"filter": "datum.k == 'e'"}],
     "mark": {"type": "rule", "strokeWidth": 1.5},
     "encoding": {
       "x": {"field": "x", "type": "quantitative", "scale": {"domain": [-2, 2], "nice": false, "zero": false}, "title": "ΔT/T(%)"},
       "x2": {"field": "x2"},
       "y": {"field": "y", "type": "quantitative", "scale": {"domain": [-3.5, 3.5], "nice": false, "zero": false}, "title": null},
       "color": {"field": "g", "type": "nominal", "scale": {"domain": ["G", "R"], "range": ["#ff1493", "#7fffd4"]}, "legend": null}
     }},
    {"transform": [{"filter": "datum.k == 'e'"}],
     "mark": {"type": "circle", "size": 50, "strokeWidth": 1.5, "opacity": 1},
     "encoding": {
       "x": {"field": "m", "type": "quantitative", "scale": {"domain": [-2, 2], "nice": false, "zero": false}, "title": "ΔT/T(%)"},
       "y": {"field": "y", "type": "quantitative", "scale": {"domain": [-3.5, 3.5], "nice": false, "zero": false}, "title": null},
       "fill": {"field": "g", "type": "nominal", "scale": {"domain": ["G", "R"], "range": ["#ff1493", "#7fffd4"]}, "legend": null},
       "stroke": {"field": "g", "type": "nominal", "scale": {"domain": ["G", "R"], "range": ["#1a0010", "#05301f"]}, "legend": null}
     }},
    {"transform": [{"filter": "datum.k == 't'"}],
     "mark": {"type": "text", "fontSize": 13, "align": "center", "baseline": "middle", "color": "black"},
     "encoding": {
       "x": {"field": "x", "type": "quantitative", "scale": {"domain": [-2, 2], "nice": false, "zero": false}, "title": "ΔT/T(%)"},
       "y": {"field": "y", "type": "quantitative", "scale": {"domain": [-3.5, 3.5], "nice": false, "zero": false}, "title": null},
       "text": {"field": "s"}
     }},
    {"transform": [{"filter": "datum.k == 's'"}],
     "mark": {"type": "text", "fontSize": 13, "align": "left", "baseline": "middle", "dx": -7, "color": "black"},
     "encoding": {
       "x": {"field": "x", "type": "quantitative", "scale": {"domain": [-2, 2], "nice": false, "zero": false}, "title": "ΔT/T(%)"},
       "y": {"field": "y", "type": "quantitative", "scale": {"domain": [-3.5, 3.5], "nice": false, "zero": false}, "title": null},
       "text": {"field": "v"}
     }},
    {"transform": [{"filter": "datum.k == 's'"}],
     "mark": {"type": "text", "fontSize": 14, "fontStyle": "italic", "align": "right", "baseline": "middle", "dx": -17, "color": "black"},
     "encoding": {
       "x": {"field": "x", "type": "quantitative", "scale": {"domain": [-2, 2], "nice": false, "zero": false}, "title": "ΔT/T(%)"},
       "y": {"field": "y", "type": "quantitative", "scale": {"domain": [-3.5, 3.5], "nice": false, "zero": false}, "title": null},
       "text": {"field": "sym"}
     }},
    {"transform": [{"filter": "datum.k == 's'"}],
     "mark": {"type": "text", "fontSize": 9.5, "fontStyle": "italic", "align": "left", "baseline": "middle", "dx": -17.5, "dy": 4, "color": "black"},
     "encoding": {
       "x": {"field": "x", "type": "quantitative", "scale": {"domain": [-2, 2], "nice": false, "zero": false}, "title": "ΔT/T(%)"},
       "y": {"field": "y", "type": "quantitative", "scale": {"domain": [-3.5, 3.5], "nice": false, "zero": false}, "title": null},
       "text": {"field": "g"}
     }},
    {"transform": [{"filter": "datum.k == 'l'"}],
     "mark": {"type": "text", "fontSize": 27, "fontWeight": "bold", "align": "center", "baseline": "middle", "color": "black"},
     "encoding": {
       "x": {"field": "x", "type": "quantitative", "scale": {"domain": [-2, 2], "nice": false, "zero": false}, "title": "ΔT/T(%)"},
       "y": {"field": "y", "type": "quantitative", "scale": {"domain": [-3.5, 3.5], "nice": false, "zero": false}, "title": null},
       "text": {"field": "s"}
     }},
    {"transform": [{"filter": "datum.k == 'side'"}],
     "mark": {"type": "text", "fontSize": 26, "fontWeight": "bold", "align": "center", "baseline": "middle", "angle": 270, "color": "black"},
     "encoding": {
       "x": {"field": "x", "type": "quantitative", "scale": {"domain": [-2, 2], "nice": false, "zero": false}, "title": "ΔT/T(%)"},
       "y": {"field": "y", "type": "quantitative", "scale": {"domain": [-3.5, 3.5], "nice": false, "zero": false}, "title": null},
       "text": {"field": "s"}
     }}
  ]
},
"config": {
  "font": "DejaVu Sans",
  "view": {"stroke": "black", "strokeWidth": 1.2},
  "axis": {"grid": true, "gridColor": "#c8c8c8", "gridWidth": 1, "tickColor": "black", "tickSize": 5, "labelColor": "black", "labelFontSize": 18, "labelFont": "DejaVu Sans", "domain": false, "zindex": 1, "titleColor": "black", "titleFont": "DejaVu Sans"},
  "axisX": {"titleFontSize": 18, "titleFontWeight": "bold", "titlePadding": 3, "labelPadding": 2},
  "axisY": {"labelPadding": 3},
  "text": {"font": "DejaVu Sans"}
}
}
